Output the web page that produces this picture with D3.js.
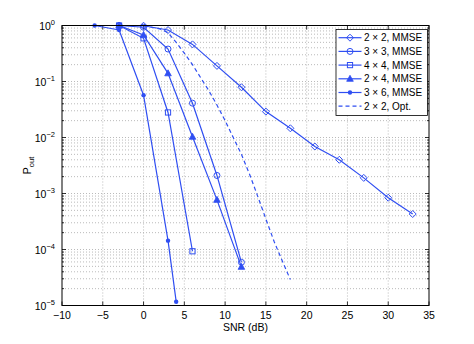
<!DOCTYPE html>
<html>
<head>
<meta charset="utf-8">
<script src="https://cdn.jsdelivr.net/npm/d3@7.9.0/dist/d3.min.js"></script>
<style>
  body { margin: 0; background: #fff; }
  svg text { font-family: "Liberation Sans", Arial, sans-serif; fill: #000; }
</style>
</head>
<body>
<div id="chart"></div>
<script>
// values (SNR in dB, outage probability)
const snr2x2 = [-3, 0, 3, 6, 9, 12, 15, 18, 21, 24, 27, 30, 33];
const pout2x2 = [1.0, 0.99, 0.83, 0.46, 0.19, 0.079, 0.029, 0.0146, 0.0069, 0.0040, 0.0019, 0.00084, 0.00043];

const snr3x3 = [-3, 0, 3, 6, 9, 12];
const pout3x3 = [1.0, 0.93, 0.38, 0.041, 0.0021, 0.000059];

const snr4x4 = [-3, 0, 3, 6];
const pout4x4 = [1.0, 0.59, 0.028, 0.000093];

const snr2x4 = [-3, 0, 3, 6, 9, 12];
const pout2x4 = [1.0, 0.68, 0.14, 0.0103, 0.00077, 0.000049];

const snr3x6 = [-6, -3, 0, 3, 4];
const pout3x6 = [1.0, 0.83, 0.057, 0.000144, 0.0000117];

const snrOpt = [0, 1, 2, 3, 4, 5, 6, 7, 8, 9, 10, 11, 12, 13, 14, 15, 16, 17, 18];
const poutOpt = [0.98, 0.93, 0.87, 0.74, 0.5, 0.32, 0.2, 0.117, 0.069, 0.038, 0.02, 0.01,
  0.005, 0.0022, 0.00089, 0.00035, 0.00014, 0.000063, 0.000029];

const seriesNames = ['2 × 2, MMSE', '3 × 3, MMSE', '4 × 4, MMSE', '2 × 4, MMSE', '3 × 6, MMSE', '2 × 2, Opt.'];
const markers = ['diamond', 'circle', 'square', 'triangle', 'dot', 'none'];

const xTicks = [-10, -5, 0, 5, 10, 15, 20, 25, 30, 35];
const yExps = [0, -1, -2, -3, -4, -5];

const zip = (xs, ys) => xs.map((x, i) => ({ x, y: ys[i] }));
const series = [
  zip(snr2x2, pout2x2),
  zip(snr3x3, pout3x3),
  zip(snr4x4, pout4x4),
  zip(snr2x4, pout2x4),
  zip(snr3x6, pout3x6),
  zip(snrOpt, poutOpt),
];

const width = 474, height = 344;
const blue = '#2f4ef2';
const plot = { left: 62, right: 429, top: 25.5, bottom: 305.5 };

const svg = d3.select('#chart').append('svg')
  .attr('width', width).attr('height', height);

const x = d3.scaleLinear().domain([-10, 35]).range([plot.left, plot.right]);
const y = d3.scaleLog().domain([1e-5, 1]).range([plot.bottom, plot.top]);

// grid
const grid = svg.append('g')
  .attr('stroke', '#a8a8a8').attr('stroke-width', 0.8).attr('stroke-dasharray', '1,2');
xTicks.slice(1, -1).forEach(t => {
  grid.append('line').attr('x1', x(t)).attr('x2', x(t))
    .attr('y1', plot.top).attr('y2', plot.bottom);
});
const minorVals = [];
for (let e = -5; e < 0; e++) {
  for (let m = 1; m <= 9; m++) minorVals.push(m * Math.pow(10, e));
}
minorVals.slice(1).forEach(v => {
  grid.append('line').attr('x1', plot.left).attr('x2', plot.right)
    .attr('y1', y(v)).attr('y2', y(v));
});

// ticks on all four sides, pointing inward
const ticks = svg.append('g').attr('stroke', '#000').attr('stroke-width', 0.8);
xTicks.forEach(t => {
  ticks.append('line').attr('x1', x(t)).attr('x2', x(t)).attr('y1', plot.bottom).attr('y2', plot.bottom - 4);
  ticks.append('line').attr('x1', x(t)).attr('x2', x(t)).attr('y1', plot.top).attr('y2', plot.top + 4);
});
minorVals.forEach(v => {
  const len = Number.isInteger(Math.log10(v)) ? 4 : 2;
  ticks.append('line').attr('x1', plot.left).attr('x2', plot.left + len).attr('y1', y(v)).attr('y2', y(v));
  ticks.append('line').attr('x1', plot.right).attr('x2', plot.right - len).attr('y1', y(v)).attr('y2', y(v));
});

// tick labels
svg.append('g').selectAll('text').data(xTicks).join('text')
  .attr('x', d => x(d)).attr('y', 319)
  .attr('text-anchor', 'middle').attr('font-size', 10.5)
  .text(d => d < 0 ? '\u2212' + Math.abs(d) : d);

const yl = svg.append('g').selectAll('text').data(yExps).join('text')
  .attr('x', 55).attr('y', d => y(Math.pow(10, d)) + 4)
  .attr('text-anchor', 'end').attr('font-size', 10.5);
yl.append('tspan').text('10');
yl.append('tspan').attr('dy', -5).attr('font-size', 7.5)
  .text(d => d < 0 ? '\u2212' + Math.abs(d) : d);

// axis labels
svg.append('text').attr('x', x(12.5)).attr('y', 331)
  .attr('text-anchor', 'middle').attr('font-size', 10.5).text('SNR (dB)');
const ylab = svg.append('text')
  .attr('transform', `translate(31,${(plot.top + plot.bottom) / 2}) rotate(-90)`)
  .attr('text-anchor', 'middle').attr('font-size', 10.5);
ylab.append('tspan').text('P');
ylab.append('tspan').attr('dy', 3).attr('font-size', 7.5).text('out');

// marker drawing
function drawMarker(g, type, cx, cy) {
  if (type === 'diamond') {
    g.append('path').attr('d', `M${cx},${cy - 3.5}L${cx + 3.5},${cy}L${cx},${cy + 3.5}L${cx - 3.5},${cy}Z`)
      .attr('fill', 'none').attr('stroke', blue).attr('stroke-width', 1);
  } else if (type === 'circle') {
    g.append('circle').attr('cx', cx).attr('cy', cy).attr('r', 3)
      .attr('fill', 'none').attr('stroke', blue).attr('stroke-width', 1);
  } else if (type === 'square') {
    g.append('rect').attr('x', cx - 2.6).attr('y', cy - 2.6).attr('width', 5.2).attr('height', 5.2)
      .attr('fill', 'none').attr('stroke', blue).attr('stroke-width', 1);
  } else if (type === 'triangle') {
    g.append('path').attr('d', `M${cx},${cy - 3.5}L${cx + 3.3},${cy + 2.5}L${cx - 3.3},${cy + 2.5}Z`)
      .attr('fill', blue).attr('stroke', blue).attr('stroke-width', 0.8);
  } else if (type === 'dot') {
    g.append('circle').attr('cx', cx).attr('cy', cy).attr('r', 2.2).attr('fill', blue);
  }
}

const line = d3.line().x(d => x(d.x)).y(d => y(d.y));

const curves = svg.append('g');
series.forEach((s, i) => {
  curves.append('path').datum(s)
    .attr('d', line)
    .attr('fill', 'none').attr('stroke', blue).attr('stroke-width', 1.2)
    .attr('stroke-dasharray', markers[i] === 'none' ? '4,3' : null);
  s.forEach(d => drawMarker(curves, markers[i], x(d.x), y(d.y)));
});

// frame
svg.append('rect').attr('x', plot.left).attr('y', plot.top)
  .attr('width', plot.right - plot.left).attr('height', plot.bottom - plot.top)
  .attr('fill', 'none').attr('stroke', '#000').attr('stroke-width', 1);

// legend
const lg = svg.append('g');
lg.append('rect').attr('x', 336).attr('y', 29.5).attr('width', 91.5).attr('height', 86)
  .attr('fill', '#fff').attr('stroke', '#000').attr('stroke-width', 0.8);
seriesNames.forEach((name, i) => {
  const ry = 37.7 + i * 13.7;
  lg.append('line').attr('x1', 338.5).attr('x2', 361.5).attr('y1', ry).attr('y2', ry)
    .attr('stroke', blue).attr('stroke-width', 1.2)
    .attr('stroke-dasharray', markers[i] === 'none' ? '4,3' : null);
  drawMarker(lg, markers[i], 350, ry);
  lg.append('text').attr('x', 364).attr('y', ry + 3.6).attr('font-size', 10).text(name);
});
</script>
</body>
</html>
